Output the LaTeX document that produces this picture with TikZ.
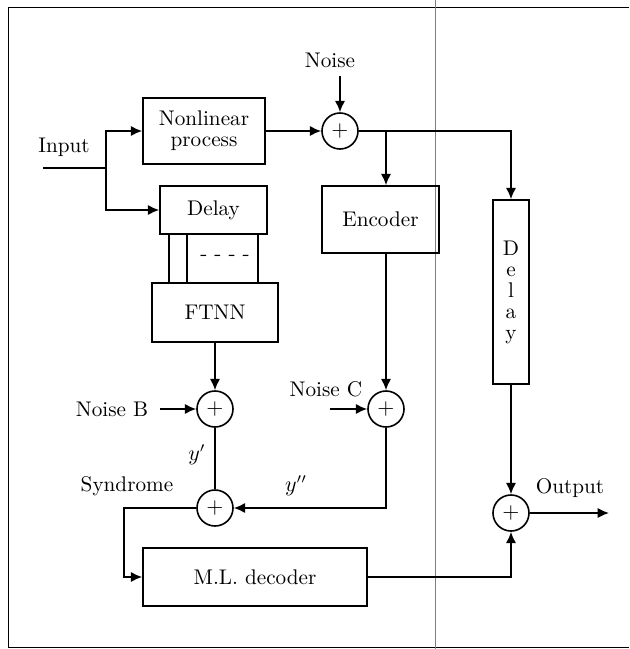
\documentclass[tikz,border=0pt]{standalone}
\usepackage{amsmath,amssymb}
\usepackage{tikz}
\usetikzlibrary{arrows.meta}
\usepackage{xcolor}
\tikzset{
  blk/.style={draw,line width=0.8pt,inner sep=2pt,align=center},
  sumc/.style={draw,circle,line width=0.8pt,minimum size=18pt,inner sep=0pt},
}

\begin{document}
\begin{tikzpicture}[x=0.5pt,y=-0.5pt,>={Latex[length=2mm,width=1.8mm]},line width=0.8pt,
  every node/.append style={font=\fontsize{10.6pt}{12.7pt}\selectfont}]
\useasboundingbox (0,0) rectangle (629,649);
% frame and page fold
\draw[line width=0.5pt] (629,7) -- (8,7) -- (8,647) -- (629,647);
\draw[gray,line width=0.3pt] (435,0) -- (435,649);
% blocks
\node[blk,minimum width=61pt,minimum height=33pt] (nonlin) at (204,131) {Nonlinear\\[-2.2pt]process};
\node[blk,minimum width=53.5pt,minimum height=24pt] (delay) at (213.5,210) {Delay};
\node[blk,minimum width=63pt,minimum height=29.5pt] (ftnn) at (215,312.5) {FTNN};
\node[blk,minimum width=58.5pt,minimum height=33.5pt] (encoder) at (380.5,219.5) {Encoder};
\node[blk,minimum width=18pt,minimum height=92pt,inner sep=0pt] (delayv) at (511,292) {D\\[-2.2pt]e\\[-2.2pt]l\\[-2.2pt]a\\[-2.2pt]y};
\node[blk,minimum width=112pt,minimum height=29pt] (decoder) at (255,577) {M.L. decoder};
% adders
\node[sumc] (sumN) at (340,131) {$+$};
\node[sumc] (sumB) at (215,409) {$+$};
\node[sumc] (sumC) at (386,409) {$+$};
\node[sumc] (sumS) at (215,508) {$+$};
\node[sumc] (sumO) at (511,513) {$+$};
% labels
\node (input) at (64,147) {Input};
\node (noise) at (330,60) {Noise};
\node (noiseB) at (112,409) {Noise B};
\node (noiseC) at (326,389) {Noise C};
\node (synd) at (127,486) {Syndrome};
\node (yone) at (197,455) {$y'$};
\node (ytwo) at (296,486) {$y''$};
\node (output) at (570,488) {Output};
% free ends
\coordinate (inp) at (43,168);
\coordinate (split) at (106,168);
\coordinate (nzA) at (340,76);
\coordinate (nzB) at (160,409);
\coordinate (nzC) at (330,409);
\coordinate (sbend) at (124,0);
\coordinate (outp) at (609,513);
% connectors
\draw (inp) -- (split);
\draw[->] (split) |- (nonlin.west);
\draw[->] (split) |- (delay.west);
\draw[->] (nonlin) -- (sumN);
\draw[->] (nzA) -- (sumN.north);
\draw[->] (sumN.east) -| (delayv.north);
\draw[->] (sumN.east -| sumC) -- (encoder.north -| sumC);
\draw[->] (encoder.south -| sumC) -- (sumC.north);
\draw[->] (nzC) -- (sumC.west);
\foreach \x in {169,187,258}
  \draw[line width=0.6pt] (\x,0 |- delay.south) -- (\x,0 |- ftnn.north);
\node (dots) at (225,258) {- - - -};
\draw[->] (ftnn) -- (sumB);
\draw[->] (nzB) -- (sumB.west);
\draw (sumB) -- (sumS);
\draw[->] (sumC.south) |- (sumS.east);
\draw[->] (sumS.west) -- (sumS.west -| sbend) |- (decoder.west);
\draw[->] (decoder.east) -| (sumO.south);
\draw[->] (delayv.south) -- (sumO.north);
\draw[->] (sumO.east) -- (outp);
\end{tikzpicture}
\end{document}
